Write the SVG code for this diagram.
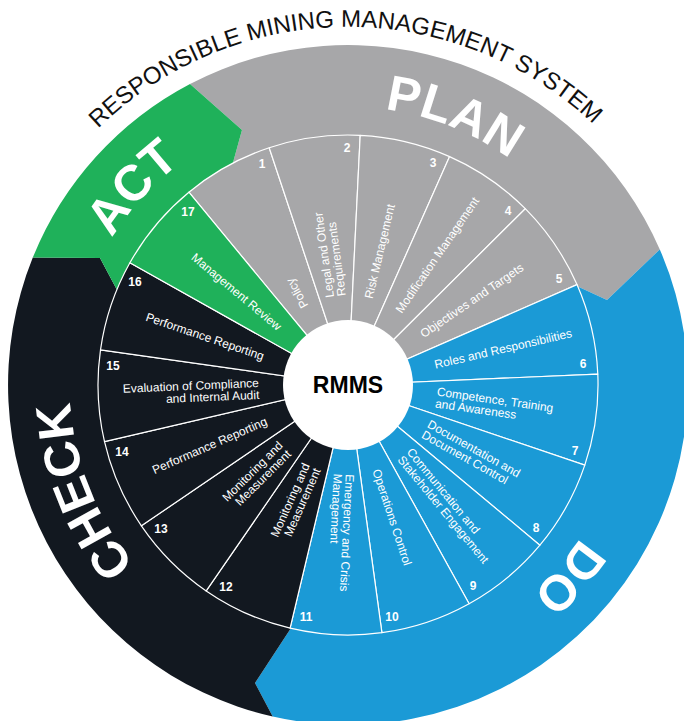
<svg xmlns="http://www.w3.org/2000/svg" width="684" height="721" viewBox="0 0 684 721">
  <style>
    .seg { stroke: #ffffff; stroke-width: 1.2; stroke-linejoin: round; }
    .gray { fill: #a7a7a9; }
    .blue { fill: #1b9ad6; }
    .black { fill: #121820; }
    .green { fill: #1fb15a; }
    .lbl { font-family: "Liberation Sans", Arial, sans-serif; font-size: 12px; fill: #ffffff; }
    .lbl-r { text-anchor: start; }
    .lbl-l { text-anchor: end; }
    .num { font-family: "Liberation Sans", Arial, sans-serif; font-weight: bold; font-size: 12px; fill: #ffffff; text-anchor: middle; }
    .phase { font-family: "Liberation Sans", Arial, sans-serif; font-weight: bold; font-size: 50px; fill: #ffffff; text-anchor: middle; }
    .title { font-family: "Liberation Sans", Arial, sans-serif; font-size: 24px; fill: #111111; text-anchor: middle; }
    .hub { font-family: "Liberation Sans", Arial, sans-serif; font-weight: bold; font-size: 23px; fill: #000000; text-anchor: middle; }
  </style>
  <defs>
    <!-- clockwise arcs around the hub centre (348,385) used as text baselines -->
    <path id="arc-title" d="M-4.6,322.8 A358,358 0 0 1 699.4,316.7"/>
    <path id="arc-plan" d="M140.1,200.4 A278,278 0 0 1 625.9,392.8"/>
    <path id="arc-do" d="M591.1,250.2 A278,278 0 0 1 248.4,644.5"/>
    <path id="arc-check" d="M356.7,662.9 A278,278 0 0 1 162.7,177.7"/>
    <path id="arc-act" d="M101.4,513.4 A278,278 0 0 1 454.4,128.2"/>
  </defs>

  <rect width="684" height="721" fill="#ffffff"/>

  <!-- title -->
  <g id="title">
    <text class="title"><textPath href="#arc-title" startOffset="50%">RESPONSIBLE MINING MANAGEMENT SYSTEM</textPath></text>
  </g>

  <!-- outer PDCA band with chevron joints -->
  <g id="phase-plan">
    <path class="gray" d="M348,385 L232.9,163.1 L242,130 L190,84 A340,340 0 0 1 659.8,249.4 L607,300 L577.8,286.5 Z"/>
    <text class="phase"><textPath href="#arc-plan" startOffset="50%">PLAN</textPath></text>
  </g>
  <g id="phase-do">
    <path class="blue" d="M348,385 L577.8,286.5 L607,300 L659.8,249.4 A340,340 0 0 1 272.7,716.5 L255,683 L291,628 Z"/>
    <text class="phase"><textPath href="#arc-do" startOffset="50%">DO</textPath></text>
  </g>
  <g id="phase-check">
    <path class="black" d="M348,385 L291,628 L255,683 L272.7,716.5 A340,340 0 0 1 32.8,257.6 L100,258 L116.9,289.7 Z"/>
    <text class="phase"><textPath href="#arc-check" startOffset="50%">CHECK</textPath></text>
  </g>
  <g id="phase-act">
    <path class="green" d="M348,385 L116.9,289.7 L100,258 L32.8,257.6 A340,340 0 0 1 190,84 L242,130 L232.9,163.1 Z"/>
    <text class="phase"><textPath href="#arc-act" startOffset="50%">ACT</textPath></text>
  </g>

  <!-- ring of 17 elements -->
  <g id="el-1">
    <path class="seg gray" d="M348,385 L188.9,192.2 A250,250 0 0 1 269.2,147.7 Z"/>
    <text class="num" x="262" y="168">1</text>
    <g transform="translate(348 385) rotate(-118.96)"><text class="lbl lbl-r" x="89" y="4">Policy</text></g>
  </g>
  <g id="el-2">
    <path class="seg gray" d="M348,385 L269.2,147.7 A250,250 0 0 1 360.2,135.3 Z"/>
    <text class="num" x="347" y="152">2</text>
    <g transform="translate(348 385) rotate(-97.79)"><text class="lbl lbl-r" x="89" y="-2">Legal and Other</text><text class="lbl lbl-r" x="89" y="10">Requirements</text></g>
  </g>
  <g id="el-3">
    <path class="seg gray" d="M348,385 L360.2,135.3 A250,250 0 0 1 449.6,156.6 Z"/>
    <text class="num" x="433" y="167">3</text>
    <g transform="translate(348 385) rotate(-76.61)"><text class="lbl lbl-r" x="89" y="4">Risk Management</text></g>
  </g>
  <g id="el-4">
    <path class="seg gray" d="M348,385 L449.6,156.6 A250,250 0 0 1 525.3,208.7 Z"/>
    <text class="num" x="508" y="215">4</text>
    <g transform="translate(348 385) rotate(-55.43)"><text class="lbl lbl-r" x="89" y="4">Modification Management</text></g>
  </g>
  <g id="el-5">
    <path class="seg gray" d="M348,385 L525.3,208.7 A250,250 0 0 1 577.0,284.6 Z"/>
    <text class="num" x="559" y="283">5</text>
    <g transform="translate(348 385) rotate(-34.26)"><text class="lbl lbl-r" x="89" y="4">Objectives and Targets</text></g>
  </g>
  <g id="el-6">
    <path class="seg blue" d="M348,385 L577.0,284.6 A250,250 0 0 1 597.8,374.1 Z"/>
    <text class="num" x="583" y="368">6</text>
    <g transform="translate(348 385) rotate(-13.08)"><text class="lbl lbl-r" x="89" y="4">Roles and Responsibilities</text></g>
  </g>
  <g id="el-7">
    <path class="seg blue" d="M348,385 L597.8,374.1 A250,250 0 0 1 584.8,465.1 Z"/>
    <text class="num" x="575" y="455">7</text>
    <g transform="translate(348 385) rotate(8.09)"><text class="lbl lbl-r" x="89" y="-2">Competence, Training</text><text class="lbl lbl-r" x="89" y="10">and Awareness</text></g>
  </g>
  <g id="el-8">
    <path class="seg blue" d="M348,385 L584.8,465.1 A250,250 0 0 1 539.9,545.2 Z"/>
    <text class="num" x="536" y="532">8</text>
    <g transform="translate(348 385) rotate(29.27)"><text class="lbl lbl-r" x="89" y="-2">Documentation and</text><text class="lbl lbl-r" x="89" y="10">Document Control</text></g>
  </g>
  <g id="el-9">
    <path class="seg blue" d="M348,385 L539.9,545.2 A250,250 0 0 1 469.1,603.7 Z"/>
    <text class="num" x="473" y="590">9</text>
    <g transform="translate(348 385) rotate(50.45)"><text class="lbl lbl-r" x="89" y="-2">Communication and</text><text class="lbl lbl-r" x="89" y="10">Stakeholder Engagement</text></g>
  </g>
  <g id="el-10">
    <path class="seg blue" d="M348,385 L469.1,603.7 A250,250 0 0 1 381.9,632.7 Z"/>
    <text class="num" x="392" y="621">10</text>
    <g transform="translate(348 385) rotate(71.62)"><text class="lbl lbl-r" x="89" y="4">Operations Control</text></g>
  </g>
  <g id="el-11">
    <path class="seg blue" d="M348,385 L381.9,632.7 A250,250 0 0 1 290.1,628.2 Z"/>
    <text class="num" x="306" y="621">11</text>
    <g transform="translate(348 385) rotate(92.8)"><text class="lbl lbl-r" x="89" y="-2">Emergency and Crisis</text><text class="lbl lbl-r" x="89" y="10">Management</text></g>
  </g>
  <g id="el-12">
    <path class="seg black" d="M348,385 L290.1,628.2 A250,250 0 0 1 206.2,590.9 Z"/>
    <text class="num" x="226" y="591">12</text>
    <g transform="translate(348 385) rotate(-66.03)"><text class="lbl lbl-l" x="-89" y="-2">Monitoring and</text><text class="lbl lbl-l" x="-89" y="10">Measurement</text></g>
  </g>
  <g id="el-13">
    <path class="seg black" d="M348,385 L206.2,590.9 A250,250 0 0 1 141.4,525.8 Z"/>
    <text class="num" x="161" y="533">13</text>
    <g transform="translate(348 385) rotate(-44.85)"><text class="lbl lbl-l" x="-89" y="-2">Monitoring and</text><text class="lbl lbl-l" x="-89" y="10">Measurement</text></g>
  </g>
  <g id="el-14">
    <path class="seg black" d="M348,385 L141.4,525.8 A250,250 0 0 1 104.5,441.6 Z"/>
    <text class="num" x="122" y="456">14</text>
    <g transform="translate(348 385) rotate(-23.67)"><text class="lbl lbl-l" x="-89" y="4">Performance Reporting</text></g>
  </g>
  <g id="el-15">
    <path class="seg black" d="M348,385 L104.5,441.6 A250,250 0 0 1 100.5,349.8 Z"/>
    <text class="num" x="113" y="370">15</text>
    <g transform="translate(348 385) rotate(-2.5)"><text class="lbl lbl-l" x="-89" y="-2">Evaluation of Compliance</text><text class="lbl lbl-l" x="-89" y="10">and Internal Audit</text></g>
  </g>
  <g id="el-16">
    <path class="seg black" d="M348,385 L100.5,349.8 A250,250 0 0 1 129.9,262.8 Z"/>
    <text class="num" x="135" y="286">16</text>
    <g transform="translate(348 385) rotate(18.68)"><text class="lbl lbl-l" x="-89" y="4">Performance Reporting</text></g>
  </g>
  <g id="el-17">
    <path class="seg green" d="M348,385 L129.9,262.8 A250,250 0 0 1 188.9,192.2 Z"/>
    <text class="num" x="188" y="216">17</text>
    <g transform="translate(348 385) rotate(39.85)"><text class="lbl lbl-l" x="-89" y="4">Management Review</text></g>
  </g>

  <!-- hub -->
  <g id="hub">
    <circle cx="348" cy="385" r="65" fill="#ffffff"/>
    <text class="hub" x="348" y="393">RMMS</text>
  </g>
</svg>
